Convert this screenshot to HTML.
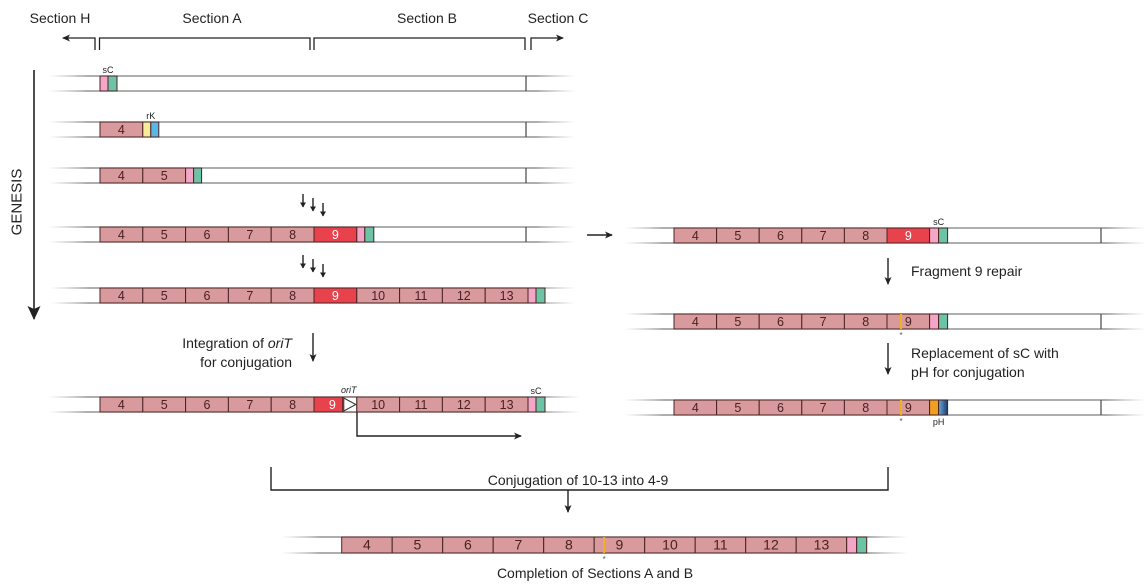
<!DOCTYPE html>
<html><head><meta charset="utf-8"><style>
html,body{margin:0;padding:0;background:#fff}
svg{display:block;font-family:"Liberation Sans",sans-serif}
</style></head><body>
<svg id="fig" width="1147" height="586" viewBox="0 0 1147 586" xmlns="http://www.w3.org/2000/svg">
<defs>
<linearGradient id="fadeL" x1="0" x2="1" y1="0" y2="0"><stop offset="0" stop-color="#999" stop-opacity="0"/><stop offset="1" stop-color="#777"/></linearGradient>
<linearGradient id="fadeR" x1="0" x2="1" y1="0" y2="0"><stop offset="0" stop-color="#777"/><stop offset="1" stop-color="#999" stop-opacity="0"/></linearGradient>
<linearGradient id="phBlue" x1="0" x2="1"><stop offset="0" stop-color="#6aa8d8"/><stop offset="1" stop-color="#1c3c6a"/></linearGradient>
<marker id="ah" markerWidth="8" markerHeight="8" refX="7" refY="4" orient="auto" markerUnits="userSpaceOnUse"><path d="M0,0.5 L8,4 L0,7.5 L2,4 Z" fill="#222"/></marker>
<marker id="ahs" markerWidth="5" markerHeight="6" refX="4.5" refY="3" orient="auto" markerUnits="userSpaceOnUse"><path d="M0,0 L5,3 L0,6 Z" fill="#222"/></marker>
<marker id="ahb" markerWidth="14" markerHeight="14" refX="13" refY="7" orient="auto" markerUnits="userSpaceOnUse"><path d="M0,0.5 L14,7 L0,13.5 L3,7 Z" fill="#222"/></marker>
</defs>

<g font-size="14" fill="#222">
<text x="60" y="23" text-anchor="middle">Section H</text>
<text x="212" y="23" text-anchor="middle">Section A</text>
<text x="427" y="23" text-anchor="middle">Section B</text>
<text x="558" y="23" text-anchor="middle">Section C</text>
</g>
<g stroke="#222" stroke-width="1.3" fill="none">
<path d="M95,50 V38 H63" marker-end="url(#ah)"/>
<path d="M99.5,50 V38 H310 V50"/>
<path d="M314,50 V38 H525 V50"/>
<path d="M531,50 V38 H563" marker-end="url(#ah)"/>
</g>

<text x="17" y="202" font-size="15" fill="#222" text-anchor="middle" transform="rotate(-90 17 202)" dominant-baseline="central">GENESIS</text>
<line x1="34" y1="70" x2="34" y2="319" stroke="#222" stroke-width="1.6" marker-end="url(#ahb)"/>

<g id="rows"></g>
<g id="ann" font-size="14" fill="#222">
<text x="292" y="348" text-anchor="end">Integration of <tspan font-style="italic">oriT</tspan></text>
<text x="292" y="367" text-anchor="end">for conjugation</text>
<text x="911" y="276">Fragment 9 repair</text>
<text x="911" y="358">Replacement of sC with</text>
<text x="911" y="377">pH for conjugation</text>
<text x="578" y="485" text-anchor="middle">Conjugation of 10-13 into 4-9</text>
<text x="595" y="578" text-anchor="middle">Completion of Sections A and B</text>
</g>
<g stroke="#222" stroke-width="1.4" fill="none">
<line x1="587" y1="235" x2="612" y2="235" marker-end="url(#ah)"/>
<line x1="313" y1="333" x2="313" y2="361" marker-end="url(#ah)"/>
<line x1="888" y1="258" x2="888" y2="284" marker-end="url(#ah)"/>
<line x1="888" y1="343" x2="888" y2="374" marker-end="url(#ah)"/>
<path d="M357,412 V436 H521" marker-end="url(#ah)"/>
<path d="M271,467 V490 H888 V467"/>
<line x1="568" y1="490" x2="568" y2="512" marker-end="url(#ah)"/>
<line x1="303" y1="194" x2="303" y2="207" marker-end="url(#ahs)"/>
<line x1="313" y1="198" x2="313" y2="211" marker-end="url(#ahs)"/>
<line x1="323" y1="203" x2="323" y2="216" marker-end="url(#ahs)"/>
<line x1="303" y1="255" x2="303" y2="268" marker-end="url(#ahs)"/>
<line x1="313" y1="259" x2="313" y2="272" marker-end="url(#ahs)"/>
<line x1="323" y1="264" x2="323" y2="277" marker-end="url(#ahs)"/>
</g>
</svg>
<script>
const row1Frags = [];
const row2Frags = [4];
const row3Frags = [4,5];
const row4Frags = [4,5,6,7,8,9];
const row5Frags = [4,5,6,7,8,9,10,11,12,13];
const row6Frags = [4,5,6,7,8,9,10,11,12,13];
const rightFrags = [4,5,6,7,8,9];
const finalFrags = [4,5,6,7,8,9,10,11,12,13];

const NS='http://www.w3.org/2000/svg';
const G=document.getElementById('rows');
function mk(tag,attrs,parent){const e=document.createElementNS(NS,tag);for(const k in attrs)e.setAttribute(k,attrs[k]);(parent||G).appendChild(e);return e;}
const FR='#d99a9e', ED='#4a2424', RED='#e8424c', PINK='#f3a6c6', TEAL='#6cc3a6';

function strip(x1,x2,y,h,endLine){
  const g=mk('g',{});
  
  
  mk('rect',{x:x1,y:y,width:x2-x1,height:h,fill:'#fff'},g);
  const f=40;
  [y,y+h].forEach(yy=>{
    mk('rect',{x:x1,y:yy-0.6,width:f,height:1.2,fill:'url(#fadeL)'},g);
    mk('rect',{x:x1+f,y:yy-0.6,width:x2-x1-2*f,height:1.2,fill:'#777'},g);
    mk('rect',{x:x2-f,y:yy-0.6,width:f,height:1.2,fill:'url(#fadeR)'},g);
  });
  if(endLine) mk('line',{x1:endLine,y1:y,x2:endLine,y2:y+h,stroke:'#444','stroke-width':1.2},g);
  return g;
}
function box(x,y,w,h,fill,name,g){
  const r=mk('rect',{x:x,y:y,width:w,height:h,fill:fill,stroke:ED,'stroke-width':1},g);
  
  
  return r;
}
function frags(list,x0,w,y,h,opts){
  const g=mk('g',{});
  
  
  let x=x0;
  list.forEach(n=>{
    let ww=w;
    if(n===9&&opts.oriT) ww=w-14;
    const red = n===9 && opts.red;
    box(x,y,ww,h,red?RED:FR,'fragment-'+n,g);
    const t=mk('text',{x:x+ww/2+(n===9&&opts.oriT?4:0),y:y+h/2+4.5,'text-anchor':'middle','font-size':opts.fs||12.5,fill:red?'#fff':'#4a2020'},g);
    t.textContent=n;
    
    
    if(n===9&&opts.yellow){
      mk('line',{x1:x+opts.yellow,y1:y,x2:x+opts.yellow,y2:y+h,stroke:'#f0b020','stroke-width':2},g);
      const s=mk('text',{x:x+opts.yellow,y:y+h+9,'text-anchor':'middle','font-size':8,fill:'#555'},g);s.textContent='*';
    }
    x+=ww;
    if(n===9&&opts.oriT){
      box(x,y,14,h,'#fff','orit-box',g);
      mk('path',{d:`M${x+1},${y+1} L${x+13},${y+h/2} L${x+1},${y+h-1} Z`,fill:'#fff',stroke:'#333','stroke-width':1},g);
      const o=mk('text',{x:x+6,y:y-4,'text-anchor':'middle','font-size':9,'font-style':'italic',fill:'#222'},g);o.textContent='oriT';
      x+=14;
    }
  });
  return x;
}
function markers(x,y,h,c1,c2,w1,w2,label,labelBelow){
  box(x,y,w1,h,c1,'marker-1');
  box(x+w1,y,w2,h,c2,'marker-2');
  if(label){const t=mk('text',{x:x+w1,y:labelBelow?y+h+10:y-3,'text-anchor':'middle','font-size':9,fill:'#222'});t.textContent=label;
  
  }
}
const H=15, LW=42.8, RW=42.6;
strip(48,576,76,H,526); let e=frags(row1Frags,100,LW,76,H,{}); markers(100,76,H,PINK,TEAL,8,9,'sC');
strip(48,576,122,H,526); e=frags(row2Frags,100,LW,122,H,{}); markers(e,122,H,'#f7ec9c','#5ab6e6',8,8,'rK');
strip(48,576,168,H,526); e=frags(row3Frags,100,LW,168,H,{}); markers(e,168,H,PINK,TEAL,8,8);
strip(48,576,227,H,526); e=frags(row4Frags,100,LW,227,H,{red:true}); markers(e,227,H,PINK,TEAL,8,9);
strip(50,576,288,H,0); e=frags(row5Frags,100,LW,288,H,{red:true}); markers(e,288,H,PINK,TEAL,8,9);
strip(48,580,397,H,0); e=frags(row6Frags,100,LW,397,H,{red:true,oriT:true}); markers(e,397,H,PINK,TEAL,8,9,'sC');
strip(624,1146,228,H,1101); e=frags(rightFrags,674,RW,228,H,{red:true}); markers(e,228,H,PINK,TEAL,9,9,'sC');
strip(624,1146,314,H,1101); e=frags(rightFrags,674,RW,314,H,{yellow:14}); markers(e,314,H,PINK,TEAL,9,9);
strip(624,1146,400,H,1101); e=frags(rightFrags,674,RW,400,H,{yellow:14}); markers(e,400,H,'#f0a020','url(#phBlue)',9,9,'pH',true);
strip(281,908,537,16,0); e=frags(finalFrags,341.7,50.5,537,16,{yellow:10,fs:14}); markers(e,537,16,PINK,TEAL,10,10);
</script>
</body></html>
